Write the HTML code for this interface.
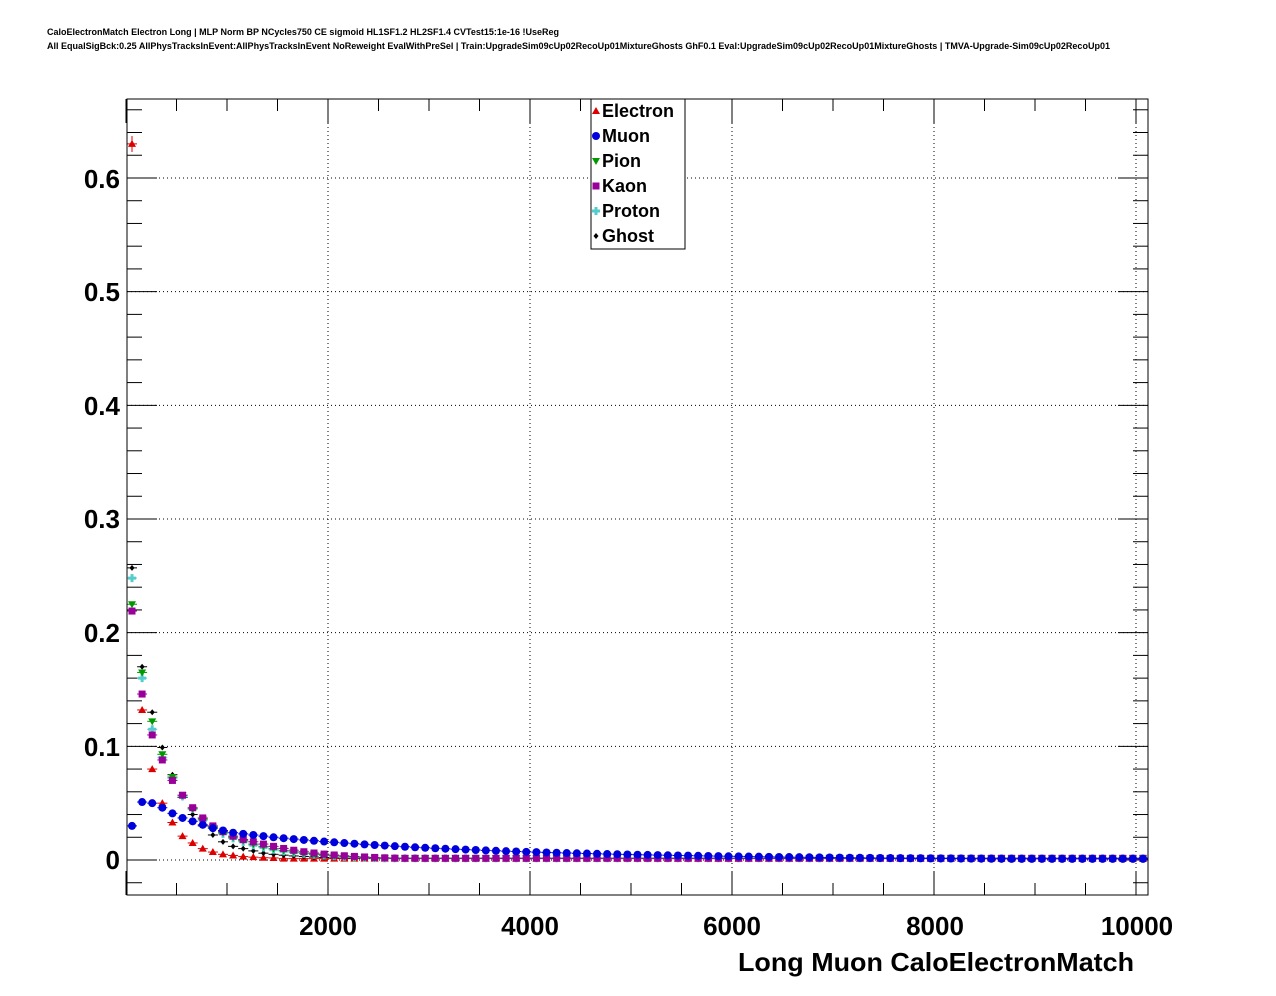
<!DOCTYPE html><html><head><meta charset="utf-8"><style>body{margin:0;background:#fff}svg{display:block}text{font-family:"Liberation Sans",sans-serif}</style></head><body>
<svg id="s" width="1276" height="996" xmlns="http://www.w3.org/2000/svg">
<text x="47" y="35" font-size="9" font-weight="bold" textLength="512" lengthAdjust="spacingAndGlyphs">CaloElectronMatch Electron Long | MLP Norm BP NCycles750 CE sigmoid HL1SF1.2 HL2SF1.4 CVTest15:1e-16 !UseReg</text>
<text x="47" y="49" font-size="9" font-weight="bold" textLength="1063" lengthAdjust="spacingAndGlyphs">All EqualSigBck:0.25 AllPhysTracksInEvent:AllPhysTracksInEvent NoReweight EvalWithPreSel | Train:UpgradeSim09cUp02RecoUp01MixtureGhosts GhF0.1 Eval:UpgradeSim09cUp02RecoUp01MixtureGhosts | TMVA-Upgrade-Sim09cUp02RecoUp01</text>
<g id="g"></g>
<rect x="127" y="99" width="1021" height="796" fill="none" stroke="#000" stroke-width="1"/>
<g font-size="26" font-weight="bold" text-anchor="end">
<text x="120" y="869">0</text><text x="120" y="756">0.1</text><text x="120" y="642">0.2</text><text x="120" y="528">0.3</text><text x="120" y="415">0.4</text><text x="120" y="301">0.5</text><text x="120" y="188">0.6</text>
</g>
<g font-size="26" font-weight="bold" text-anchor="middle">
<text x="328" y="935">2000</text><text x="530" y="935">4000</text><text x="732" y="935">6000</text><text x="935" y="935">8000</text><text x="1137" y="935">10000</text>
</g>
<text x="1134" y="971" font-size="26" font-weight="bold" text-anchor="end" textLength="396" lengthAdjust="spacingAndGlyphs">Long Muon CaloElectronMatch</text>
<rect x="591" y="99" width="94" height="150" fill="#fff" stroke="#000"/>
<g font-size="18" font-weight="bold">
<text x="602" y="117">Electron</text><text x="602" y="142">Muon</text><text x="602" y="167">Pion</text><text x="602" y="192">Kaon</text><text x="602" y="217">Proton</text><text x="602" y="242">Ghost</text>
</g>
<g id="lg"></g>
</svg>
<script>
const g=document.getElementById('g');let h='';
const X=v=>126+v*0.101, Y=v=>860-v*1136.7;
for(let v=0;v<=0.6001;v+=0.1)h+=`<line x1="127" x2="1148" y1="${Y(v)}" y2="${Y(v)}" stroke="#000" stroke-dasharray="1,3"/>`;
for(let v=2000;v<=10000;v+=2000)h+=`<line y1="99" y2="895" x1="${X(v)}" x2="${X(v)}" stroke="#000" stroke-dasharray="1,3"/>`;
for(let i=-1;i<=33;i++){let v=i*0.02,y=Y(v);if(y<99||y>895)continue;let L=(i%5==0)?30:15;
h+=`<line x1="127" x2="${127+L}" y1="${y}" y2="${y}" stroke="#000"/><line x1="${1148-L}" x2="1148" y1="${y}" y2="${y}" stroke="#000"/>`;}
for(let v=0;v<=10100;v+=500){let x=X(v);let L=(v%2000==0)?24:12;
h+=`<line x1="${x}" x2="${x}" y1="895" y2="${895-L}" stroke="#000"/><line x1="${x}" x2="${x}" y1="99" y2="${99+L}" stroke="#000"/>`;}
const head={
e:[0.63,0.132,0.08,0.05,0.033,0.021,0.015,0.01,0.007,0.005,0.004,0.003,0.0025,0.002,0.0018],
m:[0.03,0.051,0.05,0.046,0.041,0.037,0.034,0.031,0.028,0.026,0.024,0.023,0.022,0.021,0.02],
p:[0.225,0.165,0.122,0.093,0.073,0.057,0.045,0.036,0.029,0.024,0.02,0.017,0.014,0.012,0.01],
k:[0.219,0.146,0.11,0.088,0.07,0.057,0.046,0.037,0.03,0.025,0.021,0.018,0.016,0.014,0.012],
r:[0.248,0.16,0.115,0.09,0.072,0.056,0.045,0.035,0.028,0.023,0.019,0.016,0.013,0.011,0.009],
q:[0.257,0.17,0.13,0.099,0.075,0.055,0.04,0.03,0.022,0.016,0.012,0.01,0.008,0.006,0.005]};
const col={e:'#d00',m:'#0000dd',p:'#009900',k:'#990099',r:'#55cccc',q:'#000'};
function val(s,i){let a=head[s];if(i<a.length)return a[i];let l=a[a.length-1];
 if(s=='m')return Math.max(0.001,0.018*Math.exp(-(i-14)/22)+0.002*(1-(i-14)/86));
 if(s=='e')return 0.0012;return Math.max(0.0015,l*Math.exp(-(i-14)/6));}
function mk(s,x,y){let c=col[s];
 if(s=='e')return `<polygon points="${x},${y-4} ${x-4},${y+3} ${x+4},${y+3}" fill="${c}"/>`;
 if(s=='m')return `<circle cx="${x}" cy="${y}" r="4" fill="${c}"/>`;
 if(s=='p')return `<polygon points="${x},${y+4} ${x-4},${y-3} ${x+4},${y-3}" fill="${c}"/>`;
 if(s=='k')return `<rect x="${x-3.5}" y="${y-3.5}" width="7" height="7" fill="${c}"/>`;
 if(s=='r')return `<path d="M${x-4} ${y}h8M${x} ${y-4}v8" stroke="${c}" stroke-width="3"/>`;
 return `<polygon points="${x},${y-3} ${x+2.5},${y} ${x},${y+3} ${x-2.5},${y}" fill="${c}"/>`;}
for(const s of ['e','q','r','p','k','m']){for(let i=0;i<101;i++){let x=132+i*10.11,y=Y(val(s,i));
 h+=`<line x1="${x-5}" x2="${x+5}" y1="${y}" y2="${y}" stroke="${col[s]}"/>`+mk(s,x,y);}}
h+=`<line x1="132" x2="132" y1="136" y2="152" stroke="#d00"/>`;
g.innerHTML=h;
document.getElementById('lg').innerHTML=mk('e',596,111)+mk('m',596,136)+mk('p',596,161)+mk('k',596,186)+mk('r',596,211)+mk('q',596,236);
</script></body></html>
